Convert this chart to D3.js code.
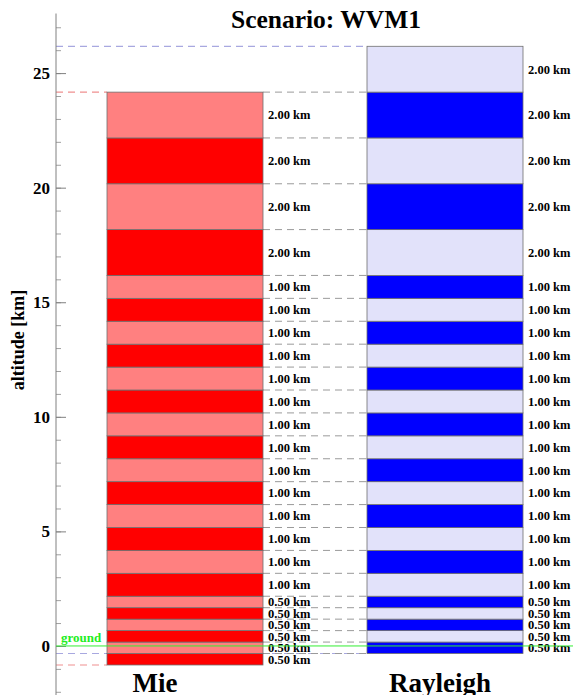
<!DOCTYPE html>
<html>
<head>
<meta charset="utf-8">
<script src="https://cdn.jsdelivr.net/npm/d3@7"></script>
<style>
  html, body { margin: 0; padding: 0; background: #fff; }
  svg { display: block; }
  text { font-family: "Liberation Serif", "Times New Roman", serif; font-weight: bold; }
</style>
</head>
<body>
<svg id="chart" width="573" height="695"></svg>
<script>
// Vertical bin layout of the two lidar channels (km)
const title = "Scenario: WVM1";
const channels = ["Mie", "Rayleigh"];
const mieBase = -0.83;
const mieThickness = [0.5, 0.5, 0.5, 0.5, 0.5, 0.5,
  1, 1, 1, 1, 1, 1, 1, 1, 1, 1, 1, 1, 1, 1,
  2, 2, 2, 2];
const rayleighBase = -0.33;
const rayleighThickness = [0.5, 0.5, 0.5, 0.5, 0.5,
  1, 1, 1, 1, 1, 1, 1, 1, 1, 1, 1, 1, 1, 1,
  2, 2, 2, 2, 2];
const majorTicks = [0, 5, 10, 15, 20, 25];
const minorTicks = d3.range(-2, 28);
const groundAltitude = 0;

const W = 573, H = 695;
const svg = d3.select("#chart");

const y = d3.scaleLinear().domain([-2.14, 28.19]).range([H, 0]);
const x = d3.scaleOrdinal().domain(channels).range([107, 367]);
const barWidth = 156;
const axisX = 56;

function layers(base, thick) {
  let b = base;
  return thick.map((t, i) => {
    const l = { bottom: b, top: b + t, t, i };
    b += t;
    return l;
  });
}
const mieLayers = layers(mieBase, mieThickness);
const rayLayers = layers(rayleighBase, rayleighThickness);
const mieTop = mieLayers[mieLayers.length - 1].top;
const rayTop = rayLayers[rayLayers.length - 1].top;

const dash = "7,5";

// Top/bottom markers of each channel, reaching back to the axis
const edgeG = svg.append("g");
[rayTop, rayleighBase].forEach(v => {
  edgeG.append("line").attr("x1", axisX).attr("x2", x("Rayleigh"))
    .attr("y1", y(v)).attr("y2", y(v))
    .attr("stroke", "#a8a8e0").attr("stroke-width", 1.2).attr("stroke-dasharray", dash);
});
[mieTop, mieBase].forEach(v => {
  edgeG.append("line").attr("x1", axisX).attr("x2", x("Mie"))
    .attr("y1", y(v)).attr("y2", y(v))
    .attr("stroke", "#f09090").attr("stroke-width", 1.2).attr("stroke-dasharray", dash);
});

// Bin boundaries in the gap between the two columns
const gapLevels = Array.from(new Set(
  mieLayers.map(l => l.top).concat(rayLayers.slice(0, -1).map(l => l.top)).concat([rayleighBase])
    .map(v => +v.toFixed(3))));
svg.append("g").selectAll("line").data(gapLevels).join("line")
  .attr("x1", x("Mie") + barWidth).attr("x2", x("Rayleigh"))
  .attr("y1", d => y(d)).attr("y2", d => y(d))
  .attr("stroke", "#9a9a9a").attr("stroke-width", 1).attr("stroke-dasharray", dash);

// Columns of bins
function drawColumn(name, data, colors) {
  const g = svg.append("g");
  g.selectAll("rect").data(data).join("rect")
    .attr("x", x(name)).attr("width", barWidth)
    .attr("y", d => y(d.top)).attr("height", d => y(d.bottom) - y(d.top))
    .attr("fill", d => colors[d.i % 2])
    .attr("stroke", "#6f6f6f").attr("stroke-width", 0.8);
  g.selectAll("text").data(data).join("text")
    .attr("x", x(name) + barWidth + 5)
    .attr("y", d => y((d.top + d.bottom) / 2))
    .attr("dy", "0.35em")
    .attr("font-size", 12.5).attr("fill", "#000")
    .text(d => d.t.toFixed(2) + " km");
}
drawColumn("Mie", mieLayers, ["#ff0000", "#ff8080"]);
drawColumn("Rayleigh", rayLayers, ["#0000ff", "#e2e2fa"]);

// Altitude axis with inward ticks
const axisG = svg.append("g").attr("transform", `translate(${axisX},0)`);
const minorAxis = d3.axisLeft(y).tickValues(minorTicks).tickSizeInner(-5).tickSizeOuter(0).tickFormat("");
const majorAxis = d3.axisLeft(y).tickValues(majorTicks).tickSizeInner(-10).tickSizeOuter(0).tickPadding(6).tickFormat(d3.format("d"));
const gMinor = axisG.append("g").call(minorAxis);
gMinor.select(".domain").remove();
gMinor.selectAll(".tick line").attr("stroke", "#a0a0a0");
const gMajor = axisG.append("g").call(majorAxis);
gMajor.select(".domain").remove();
gMajor.selectAll(".tick line").attr("stroke", "#808080");
gMajor.selectAll(".tick text")
  .attr("font-family", "'Liberation Serif', serif").attr("font-weight", "bold")
  .attr("font-size", 17).attr("fill", "#000");
axisG.append("line").attr("x1", 0).attr("x2", 0)
  .attr("y1", y(27.6)).attr("y2", H)
  .attr("stroke", "#808080").attr("stroke-width", 1);

// Ground level
svg.append("line").attr("x1", axisX).attr("x2", W)
  .attr("y1", y(groundAltitude)).attr("y2", y(groundAltitude))
  .attr("stroke", "#33ee33").attr("stroke-width", 1);
svg.append("text").attr("x", 61).attr("y", y(groundAltitude) - 4)
  .attr("font-size", 13).attr("fill", "#22ee22").text("ground");

// Titles
svg.append("text").attr("x", 326).attr("y", 28).attr("text-anchor", "middle")
  .attr("font-size", 25.5).attr("fill", "#000").text(title);
svg.append("text").attr("transform", `translate(24,${y(13.35)}) rotate(-90)`)
  .attr("text-anchor", "middle").attr("font-size", 18).attr("fill", "#000")
  .text("altitude [km]");
svg.append("text").attr("x", 155).attr("y", 692).attr("text-anchor", "middle")
  .attr("font-size", 27).attr("fill", "#000").text(channels[0]);
svg.append("text").attr("x", 440).attr("y", 692).attr("text-anchor", "middle")
  .attr("font-size", 27).attr("fill", "#000").text(channels[1]);
</script>
</body>
</html>
